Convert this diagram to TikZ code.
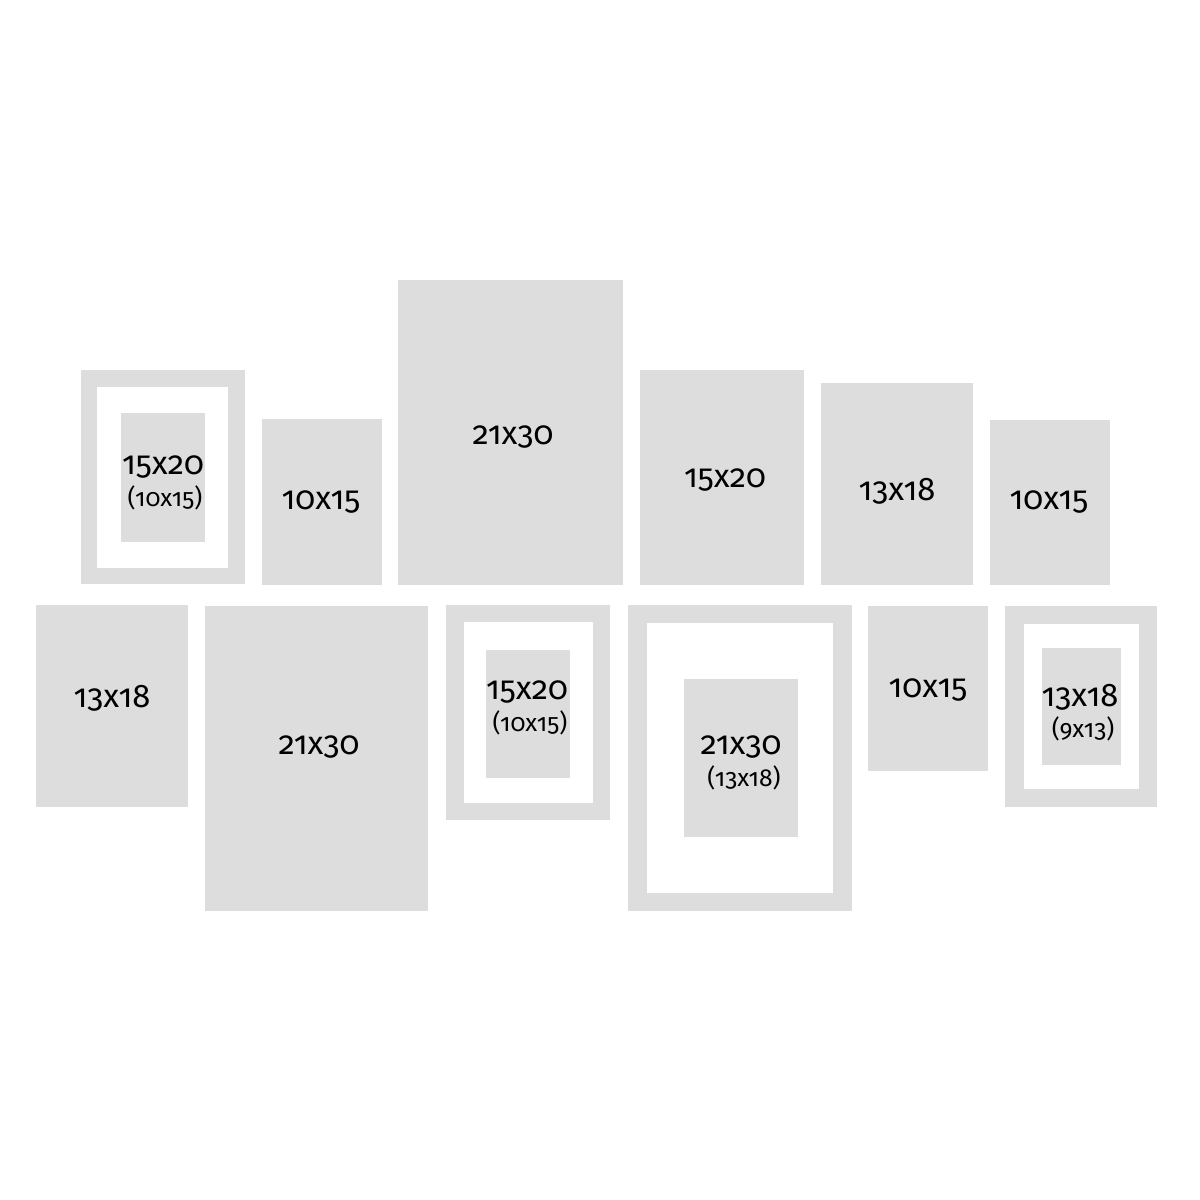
\documentclass[tikz,border=0pt]{standalone}
\usepackage{fontspec}
\setmainfont[Numbers=OldStyle]{Fira Sans}
\definecolor{cornice}{RGB}{221,221,221}
\tikzset{
  cornice/.style={fill=cornice},
  passe/.style={fill=white},
  misura/.style={inner sep=0pt,font=\fontsize{9.3}{10}\selectfont},
  foto/.style={inner sep=0pt,font=\fontsize{7}{7}\selectfont}
}
\begin{document}
\begin{tikzpicture}[x=0.01cm,y=-0.01cm]
   \useasboundingbox (0,0) rectangle (1200,1200);
   %cornici piene
   \foreach \xa/\ya/\xb/\yb/\cx/\cy/\t [count=\i] in {262/419/382/585/321/502/10x15, 398/280/623/585/513/437/21x30,
      640/370/804/585/725/480/15x20, 821/383/973/585/897/491/13x18, 990/420/1110/585/1049/502/10x15,
      36/605/188/807/112/698/13x18, 205/606/428/911/319/747/21x30, 868/606/988/771/928/690/10x15}
      {\fill[cornice] (\xa,\ya) rectangle (\xb,\yb);
       \node[misura] (m\i) at (\cx,\cy) {\t};}
   %cornici con passepartout
   \foreach \xa/\ya/\xb/\yb/\pa/\qa/\pb/\qb/\fa/\ga/\fb/\gb in {81/370/245/584/97/387/228/568/121/413/205/542,
      446/605/610/820/464/622/593/803/486/650/570/778, 628/605/852/911/647/623/833/893/684/679/798/837,
      1005/606/1157/807/1024/624/1139/789/1042/648/1121/765}
      {\fill[cornice] (\xa,\ya) rectangle (\xb,\yb);
       \fill[passe] (\pa,\qa) rectangle (\pb,\qb);
       \fill[cornice] (\fa,\ga) rectangle (\fb,\gb);}
   %misure
   \node[misura] (p1) at (163,467) {15x20};
   \node[foto] (f1) at (165,498) {(10x15)};
   \node[misura] (p9) at (527,692) {15x20};
   \node[foto] (f9) at (530,723) {(10x15)};
   \node[misura] (p10) at (741,747) {21x30};
   \node[foto] (f10) at (744,778) {(13x18)};
   \node[misura] (p12) at (1080,697) {13x18};
   \node[foto] (f12) at (1083,729) {(9x13)};
\end{tikzpicture}
\end{document}
